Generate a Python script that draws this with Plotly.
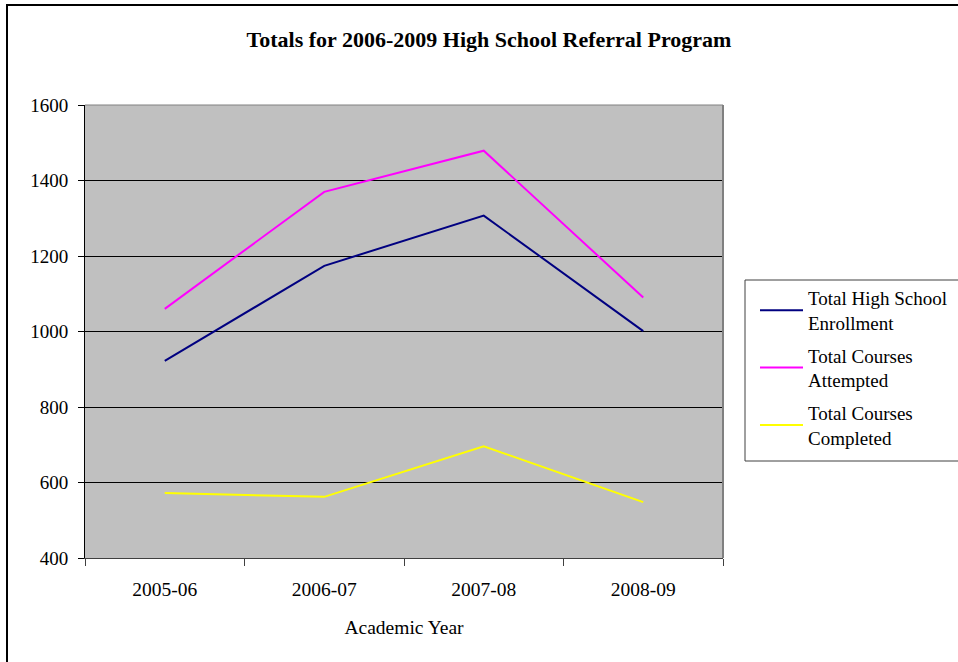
import plotly.graph_objects as go

years = ["2005-06", "2006-07", "2007-08", "2008-09"]
enrollment = [922, 1174, 1307, 1001]
attempted = [1060, 1370, 1479, 1090]
completed = [572, 562, 696, 548]

series_names = ["Total High School<br>Enrollment", "Total Courses<br>Attempted", "Total Courses<br>Completed"]
series_vals = [enrollment, attempted, completed]
series_colors = ["#000080", "#FF00FF", "#FFFF00"]

FONT = "Liberation Serif, Times New Roman, serif"

fig = go.Figure()
for i, (nm, vals, col) in enumerate(zip(series_names, series_vals, series_colors)):
    fig.add_trace(go.Scatter(x=years, y=vals, mode="lines", name=nm,
                             line=dict(color=col, width=2), legendgroup=f"g{i}"))

L, R, T, B = 85, 235, 105, 104
W, H = 958, 662
pw = W - L - R
ph = H - T - B

def px_x(p):
    return (p - L) / pw

def px_y(p):
    return (H - B - p) / ph

fig.update_layout(
    width=W, height=H,
    margin=dict(l=L, r=R, t=T, b=B, autoexpand=False),
    paper_bgcolor="white",
    plot_bgcolor="#C0C0C0",
    font=dict(family=FONT, size=19, color="black"),
    title=dict(text="<b>Totals for 2006-2009 High School Referral Program</b>",
               x=489 / W, xref="container", xanchor="center",
               y=1 - 39 / H, yref="container", yanchor="middle",
               font=dict(family=FONT, size=22, color="black")),
    showlegend=True,
    legend=dict(x=px_x(755), y=px_y(279), xanchor="left", yanchor="top",
                bgcolor="rgba(0,0,0,0)", borderwidth=0,
                font=dict(family=FONT, size=19, color="black"),
                tracegroupgap=5, itemwidth=43),
    xaxis=dict(type="category", range=[-0.5, 3.5], tickson="boundaries",
               ticks="outside", ticklen=7,
               tickcolor="#404040", showline=True, linecolor="#404040", linewidth=1,
               mirror=False, showgrid=False, tickfont=dict(size=19.5),
               ticklabelstandoff=14,
               title=dict(text="Academic Year", font=dict(size=19.5), standoff=20)),
    yaxis=dict(range=[400, 1600], dtick=200, ticks="outside", ticklen=6,
               tickcolor="black", showline=True, linecolor="black", linewidth=1,
               showgrid=True, gridcolor="black", gridwidth=1, zeroline=False,
               tickfont=dict(size=19), ticklabelstandoff=6),
)

# plot area top/right border
fig.add_shape(type="line", xref="paper", yref="paper", x0=0, x1=1, y0=1, y1=1,
              line=dict(color="#808080", width=1))
fig.add_shape(type="line", xref="paper", yref="paper", x0=1, x1=1, y0=0, y1=1,
              line=dict(color="#808080", width=2))
# legend box (extends beyond right edge)
fig.add_shape(type="rect", xref="paper", yref="paper",
              x0=px_x(745), x1=px_x(990), y0=px_y(461), y1=px_y(280),
              line=dict(color="#404040", width=1), fillcolor="white", layer="below")
# outer chart frame (extends beyond right/bottom edges)
fig.add_shape(type="rect", xref="paper", yref="paper",
              x0=px_x(7), x1=px_x(990), y0=px_y(700), y1=px_y(5),
              line=dict(color="black", width=2), layer="below")

fig.write_html("out.html", config={"displayModeBar": False},
               post_script="document.body.style.margin='0';")
